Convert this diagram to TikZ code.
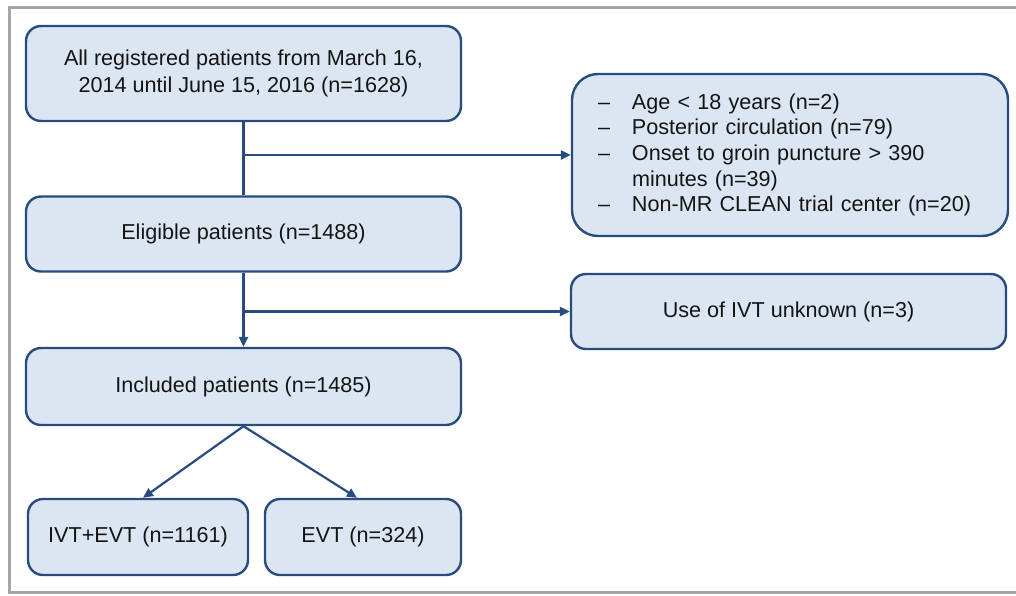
\documentclass[tikz,border=0pt]{standalone}
\usepackage{fontspec}
\setmainfont{Liberation Sans}
\usetikzlibrary{arrows.meta,calc}
\definecolor{boxfill}{RGB}{220,230,242}
\definecolor{boxline}{RGB}{40,76,128}
\definecolor{framegray}{RGB}{166,166,166}
\definecolor{txt}{RGB}{20,20,20}
\begin{document}
\begin{tikzpicture}[x=1pt,y=-1pt,
  flowbox/.style={draw=boxline,fill=boxfill,line width=2.4pt,rounded corners=15pt,
    inner sep=0pt,align=center,text=txt,font=\fontsize{21.6}{26.5}\selectfont},
  conn/.style={draw=boxline,line width=2.2pt},
  arr/.style={conn,-{Triangle[length=10pt,width=9pt]}}]
\useasboundingbox (0,0) rectangle (1016,595);
\draw[framegray,line width=3pt] (1020,7.5) -- (9,7.5) -- (9,592) -- (1020,592);
\node[flowbox,minimum width=435pt,minimum height=95pt] (b1) at (243.5,73.5)
  {All registered patients from March 16,\\2014 until June 15, 2016 (n=1628)};
\node[flowbox,minimum width=435pt,minimum height=75pt] (b2) at (243.5,234)
  {Eligible patients (n=1488)};
\node[flowbox,minimum width=435pt,minimum height=77pt] (b3) at (243.5,386.5)
  {Included patients (n=1485)};
\node[flowbox,minimum width=220pt,minimum height=76pt] (b4) at (138,537)
  {IVT+EVT (n=1161)};
\node[flowbox,minimum width=196pt,minimum height=76pt] (b5) at (363,537)
  {EVT (n=324)};
\node[flowbox,rounded corners=26pt,minimum width=436pt,minimum height=162pt,
  text width=384pt,align=left,font=\fontsize{21.6}{25.6}\selectfont] (ex1) at (790,155)
  {\makebox[34pt][l]{–}Age < 18 years (n=2)\\
   \makebox[34pt][l]{–}Posterior circulation (n=79)\\
   \makebox[34pt][l]{–}Onset to groin puncture > 390\\
   \hspace*{34pt}minutes (n=39)\\
   \makebox[34pt][l]{–}Non-MR CLEAN trial center (n=20)};
\node[flowbox,minimum width=435pt,minimum height=75pt] (ex2) at (788.5,311.5)
  {Use of IVT unknown (n=3)};
\coordinate (j1) at (b1.south |- ex1.west);
\coordinate (j2) at (b2.south |- ex2.west);
\draw[conn] (b1.south) -- (b2.north);
\draw[arr] (j1) -- (ex1.west);
\draw[arr] (b2.south) -- (b3.north);
\draw[arr] (j2) -- (ex2.west);
\draw[arr] (b3.south) -- ([xshift=5pt]b4.north);
\draw[arr] (b3.south) -- ([xshift=-6pt]b5.north);
\end{tikzpicture}
\end{document}
